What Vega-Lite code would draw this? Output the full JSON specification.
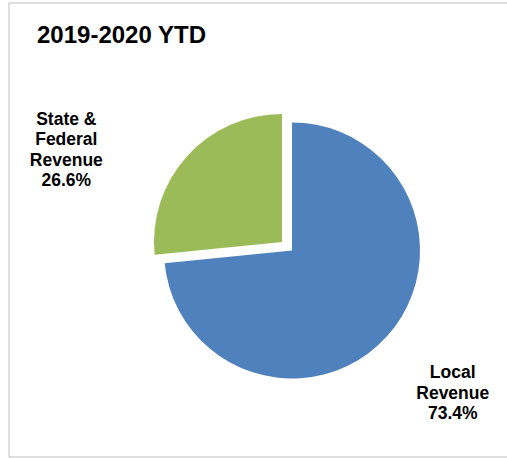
{
  "$schema": "https://vega.github.io/schema/vega-lite/v6.json",
  "width": 498,
  "height": 454,
  "autosize": {"type": "none"},
  "padding": {"left": 9, "top": 3, "right": 0, "bottom": 1},
  "background": "white",
  "config": {
    "view": {"stroke": null},
    "font": "Liberation Sans"
  },
  "title": {
    "text": "2019-2020 YTD",
    "anchor": "start",
    "frame": "group",
    "orient": "top",
    "offset": 0,
    "dx": 28,
    "dy": 64,
    "baseline": "alphabetic",
    "font": "Liberation Sans",
    "fontSize": 24,
    "fontWeight": "bold",
    "color": "#000000"
  },
  "datasets": {
    "revenue": [
      {"source": "Local Revenue", "pct": 73.4, "k": 1, "label": "Local\nRevenue\n73.4%"},
      {"source": "State & Federal Revenue", "pct": 26.6, "k": 2, "label": "State &\nFederal\nRevenue\n26.6%"}
    ],
    "frame": [{"name": "chart area"}]
  },
  "layer": [
    {
      "data": {"name": "frame"},
      "mark": {"type": "rect", "fill": null, "stroke": "#bfbfbf", "strokeWidth": 1, "strokeDash": [498, 454, 952, 0]},
      "encoding": {}
    },
    {
      "data": {"name": "revenue"},
      "mark": {"type": "arc", "outerRadius": 128, "xOffset": 34, "yOffset": 20.5},
      "encoding": {
        "theta": {"field": "pct", "type": "quantitative", "stack": true},
        "order": {"field": "k", "type": "quantitative"},
        "color": {
          "field": "source",
          "type": "nominal",
          "scale": {"domain": ["Local Revenue", "State & Federal Revenue"], "range": ["#4F81BD", "#9BBB59"]},
          "legend": null
        },
        "opacity": {"condition": {"test": "datum.k == 1", "value": 1}, "value": 0}
      }
    },
    {
      "data": {"name": "revenue"},
      "mark": {"type": "arc", "outerRadius": 128, "xOffset": 24, "yOffset": 12},
      "encoding": {
        "theta": {"field": "pct", "type": "quantitative", "stack": true},
        "order": {"field": "k", "type": "quantitative"},
        "color": {
          "field": "source",
          "type": "nominal",
          "scale": {"domain": ["Local Revenue", "State & Federal Revenue"], "range": ["#4F81BD", "#9BBB59"]},
          "legend": null
        },
        "opacity": {"condition": {"test": "datum.k == 2", "value": 1}, "value": 0}
      }
    },
    {
      "data": {"name": "revenue"},
      "mark": {"type": "text", "radius": 214, "xOffset": 34, "yOffset": 20.5, "dx": 2, "dy": -21, "lineBreak": "\n", "lineHeight": 20.5, "fontSize": 17.5, "fontWeight": "bold", "font": "Liberation Sans", "align": "center", "baseline": "middle", "color": "#000000"},
      "encoding": {
        "theta": {"field": "pct", "type": "quantitative", "stack": true},
        "order": {"field": "k", "type": "quantitative"},
        "text": {"condition": {"test": "datum.k == 1", "field": "label"}, "value": ""}
      }
    },
    {
      "data": {"name": "revenue"},
      "mark": {"type": "text", "radius": 160, "xOffset": 24, "yOffset": 12, "dx": -97, "dy": -15, "lineBreak": "\n", "lineHeight": 20.5, "fontSize": 17.5, "fontWeight": "bold", "font": "Liberation Sans", "align": "center", "baseline": "middle", "color": "#000000"},
      "encoding": {
        "theta": {"field": "pct", "type": "quantitative", "stack": true},
        "order": {"field": "k", "type": "quantitative"},
        "text": {"condition": {"test": "datum.k == 2", "field": "label"}, "value": ""}
      }
    }
  ]
}
